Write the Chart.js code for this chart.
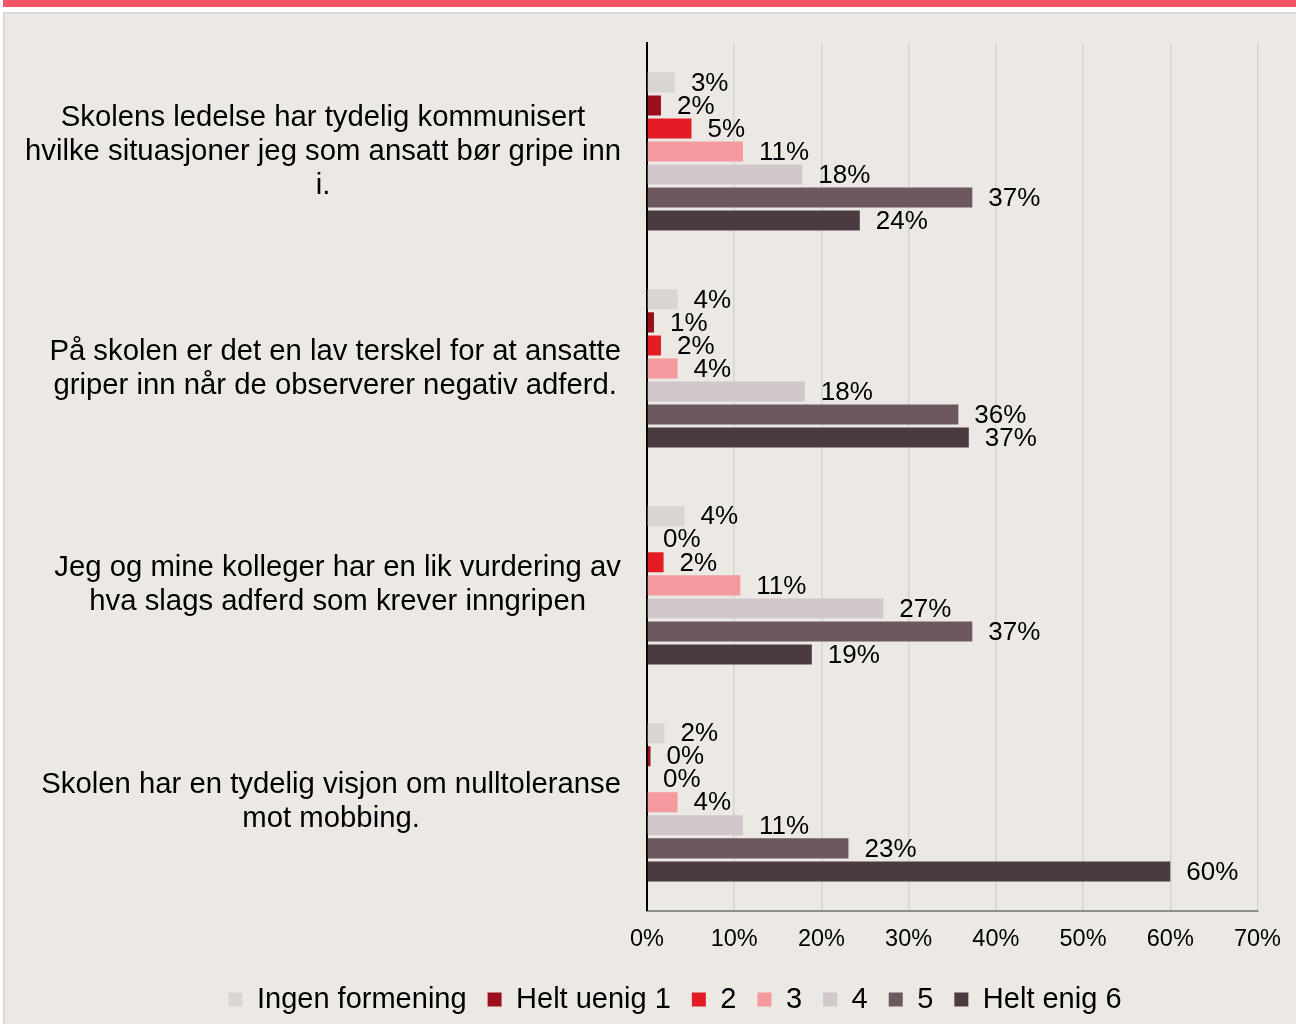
<!DOCTYPE html>
<html lang="no">
<head>
<meta charset="UTF-8">
<title>Holdninger til mobbing</title>
<script src="https://cdn.jsdelivr.net/npm/chart.js"></script>
<style>
    body { margin: 0; background: #ffffff; }
    #redbar { position: absolute; left: 3px; top: 0; width: 1293px; height: 7px; background: #f25565; }
    #panel { position: absolute; left: 3px; top: 12px; right: 0; bottom: 0; background: #ece9e4;
             border-left: 2px solid #d9d9d9; border-top: 2px solid #d9d9d9; }
    #wrap { position: absolute; left: 0; top: 0; width: 1296px; height: 1024px; }
</style>
</head>
<body>
<div id="redbar"></div>
<div id="panel"></div>
<div id="wrap"><canvas id="chart"></canvas></div>
<script>
    // kategorier (spørsmål), én linje per element
    const categories = [
        ['Skolens ledelse har tydelig kommunisert', 'hvilke situasjoner jeg som ansatt bør gripe inn', 'i.'],
        ['På skolen er det en lav terskel for at ansatte', 'griper inn når de observerer negativ adferd.'],
        ['Jeg og mine kolleger har en lik vurdering av', 'hva slags adferd som krever inngripen'],
        ['Skolen har en tydelig visjon om nulltoleranse', 'mot mobbing.']
    ];
    const seriesNames = ['Ingen formening', 'Helt uenig 1', '2', '3', '4', '5', 'Helt enig 6'];

    // prosentverdier per serie (lest av grafen)
    const ingenFormening = [3.2, 3.5, 4.3, 2.0];
    const heltUenig1 = [1.6, 0.8, 0, 0.4];
    const svar2 = [5.1, 1.6, 1.9, 0];
    const svar3 = [11.0, 3.5, 10.7, 3.5];
    const svar4 = [17.8, 18.1, 27.1, 11.0];
    const svar5 = [37.3, 35.7, 37.3, 23.1];
    const heltEnig6 = [24.4, 36.9, 18.9, 60.0];

    const xTicks = [0, 10, 20, 30, 40, 50, 60, 70];

    const seriesValues = [ingenFormening, heltUenig1, svar2, svar3, svar4, svar5, heltEnig6];
    const colors = ['#d9d6d2', '#9b0e1c', '#e31b25', '#f4999e', '#d2c7ca', '#6e5860', '#4b3a40'];

    const fontFamily = '"Liberation Sans", Arial, sans-serif';

    // tegner prosentetiketter og kategoritekst
    const tekstPlugin = {
        id: 'tekstPlugin',
        afterDatasetsDraw(chart) {
            const ctx = chart.ctx;
            ctx.save();
            ctx.fillStyle = '#000';
            ctx.textBaseline = 'middle';
            ctx.textAlign = 'left';
            ctx.font = '26px ' + fontFamily;
            chart.data.datasets.forEach((ds, i) => {
                chart.getDatasetMeta(i).data.forEach((bar, j) => {
                    ctx.fillText(Math.round(ds.data[j]) + '%', bar.x + 16, bar.y + 1);
                });
            });

            const yScale = chart.scales.y;
            ctx.font = '29.3px ' + fontFamily;
            ctx.textAlign = 'center';
            categories.forEach((lines, i) => {
                const cy = yScale.getPixelForValue(i);
                const w = Math.max(...lines.map(l => ctx.measureText(l).width));
                const cx = chart.chartArea.left - 26 - w / 2;
                lines.forEach((l, k) => {
                    ctx.fillText(l, cx, cy + (k - (lines.length - 1) / 2) * 34);
                });
            });
            ctx.restore();
        }
    };

    new Chart(document.getElementById('chart'), {
        type: 'bar',
        data: {
            labels: categories,
            datasets: seriesNames.map((name, i) => ({
                label: name,
                data: seriesValues[i],
                backgroundColor: colors[i],
                borderWidth: 0,
                categoryPercentage: 0.743,
                barPercentage: 0.87
            }))
        },
        options: {
            indexAxis: 'y',
            responsive: true,
            maintainAspectRatio: false,
            animation: false,
            layout: { padding: { left: 92, right: 38, top: 43, bottom: 0 } },
            scales: {
                x: {
                    min: 0,
                    max: 70,
                    afterBuildTicks: s => { s.ticks = xTicks.map(v => ({ value: v })); },
                    afterFit: s => { s.height -= 5; },
                    ticks: {
                        callback: v => v + '%',
                        color: '#000',
                        font: { family: fontFamily, size: 23.5 },
                        padding: 15
                    },
                    grid: {
                        color: ctx => ctx.tick && ctx.tick.value === 0 ? 'rgba(0,0,0,0)' : '#d4d4d4',
                        lineWidth: 1.5,
                        drawTicks: false
                    },
                    border: { color: '#8e8e8e', width: 2 }
                },
                y: {
                    afterFit: s => { s.width = 555; },
                    ticks: { display: false },
                    grid: { display: false },
                    border: { color: '#000', width: 2 }
                }
            },
            plugins: {
                legend: {
                    position: 'bottom',
                    labels: {
                        color: '#000',
                        font: { family: fontFamily, size: 29 },
                        boxWidth: 14,
                        boxHeight: 14,
                        padding: 21
                    }
                },
                tooltip: { enabled: false }
            }
        },
        plugins: [tekstPlugin]
    });
</script>
</body>
</html>
